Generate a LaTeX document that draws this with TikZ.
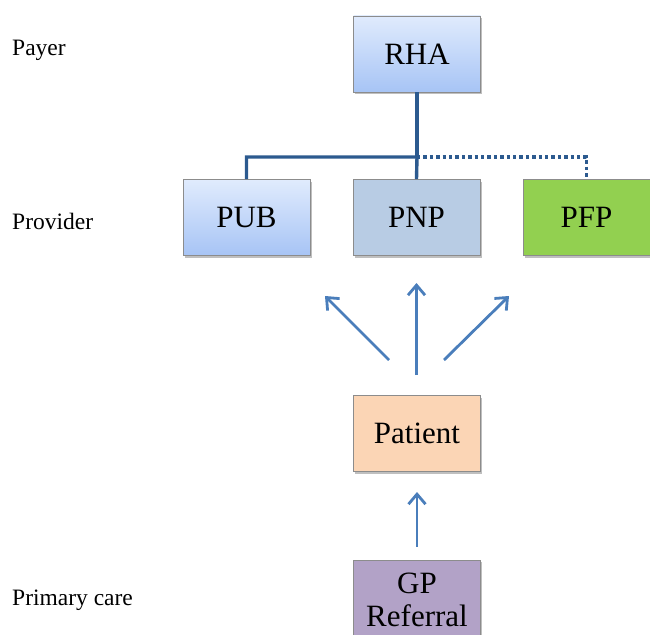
\documentclass[tikz,border=0pt]{standalone}
\usepackage{fontspec}
\setmainfont{Liberation Serif}
\usetikzlibrary{shadows,arrows.meta}
\definecolor{boxline}{HTML}{8C8C8C}
\definecolor{conn}{HTML}{2C5A8F}
\definecolor{arr}{HTML}{4A7EBB}
\definecolor{bluetop}{HTML}{E0EBFD}
\definecolor{bluebot}{HTML}{A7C4F5}
\definecolor{pnpfill}{HTML}{B8CCE4}
\definecolor{pfpfill}{HTML}{92D050}
\definecolor{patfill}{HTML}{FBD5B5}
\definecolor{gpfill}{HTML}{B2A2C7}
\tikzset{
  x=1pt,y=-1pt,
  box/.style={draw=boxline,line width=0.8pt,minimum width=127pt,minimum height=76pt,inner sep=0pt,font=\fontsize{31}{33}\selectfont,
    drop shadow={shadow xshift=1.5pt,shadow yshift=-2pt,fill=black,opacity=0.25}},
  gradbox/.style={box,top color=bluetop,bottom color=bluebot},
  side/.style={anchor=west,inner sep=0pt,font=\fontsize{23.5}{26}\selectfont},
  solidconn/.style={draw=conn,line width=3.4pt},
  dotconn/.style={draw=conn,line width=3.4pt,dash pattern=on 3.4pt off 3pt},
  uparr/.style={draw=arr,line width=2.8pt,-{Straight Barb[length=10pt,width=17pt,line width=2.8pt]}}
}
\begin{document}
\begin{tikzpicture}
\useasboundingbox (0,0) rectangle (650,634);
\clip (0,0) rectangle (650,634);
\node[side] (payer) at (12,50) {Payer};
\node[side] (provider) at (12,221) {Provider};
\node[side] (primary) at (12,600) {Primary care};

\node[gradbox] (rha) at (417,54) {RHA};
\node[gradbox] (pub) at (246.5,217.5) {PUB};
\node[box,fill=pnpfill] (pnp) at (416.5,217.5) {PNP};
\node[box,fill=pfpfill] (pfp) at (586.5,217.5) {PFP};
\node[box,fill=patfill] (pat) at (417,433.5) {Patient};
\node[box,fill=gpfill,minimum height=80pt,align=center,font=\fontsize{31}{33}\selectfont] (gp) at (417,600) {GP\\Referral};

\coordinate (junc) at (417,157);
\draw[dotconn] (junc) -| (pfp.north);
\draw[solidconn] (rha.south) -- (junc);
\draw[solidconn] (pnp.north) -- (junc) -| (pub.north);

\coordinate (a1s) at (389,360);
\coordinate (a1e) at (325,296);
\coordinate (a2s) at (416.5,375);
\coordinate (a2e) at (416.5,283);
\coordinate (a3s) at (444,360);
\coordinate (a3e) at (509,296);
\coordinate (a4e) at (417,492);
\draw[uparr] (a1s) -- (a1e);
\draw[uparr] (a2s) -- (a2e);
\draw[uparr] (a3s) -- (a3e);
\draw[uparr] (gp.north) ++(0,-13) -- (a4e);
\end{tikzpicture}
\end{document}
